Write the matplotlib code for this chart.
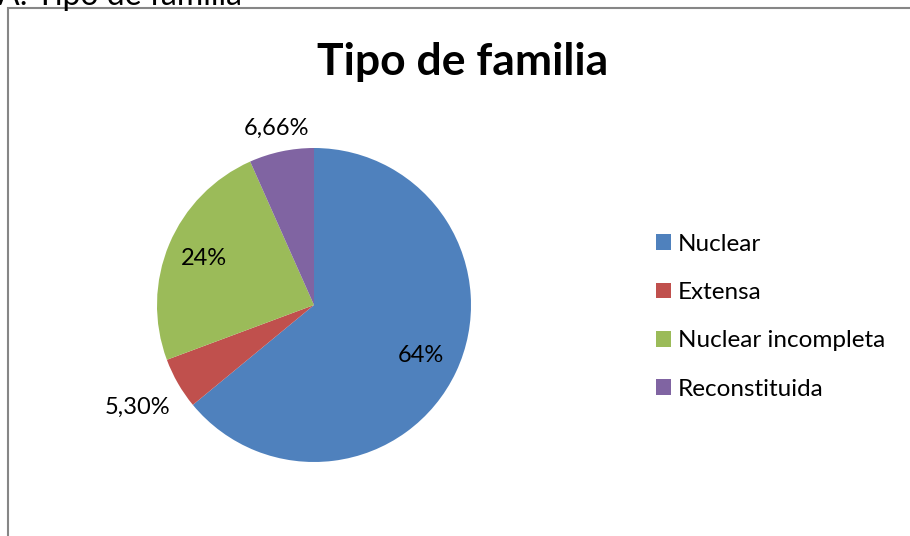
import matplotlib.pyplot as plt
from matplotlib.patches import Rectangle
import numpy as np

# data
categories = ['Nuclear', 'Extensa', 'Nuclear incompleta', 'Reconstituida']
values = [64, 5.30, 24, 6.66]
pct_labels = ['64%', '5,30%', '24%', '6,66%']
colors = ['#4F81BD', '#C0504D', '#9BBB59', '#8064A2']
label_dist = [0.75, 1.30, 0.76, 1.15]

plt.rcParams['font.family'] = ['Lato', 'DejaVu Sans']

fig = plt.figure(figsize=(9.1, 5.36), dpi=100)
ax = fig.add_axes([0, 0, 1, 1])

# pie centre / radius in pixel units (y measured from bottom)
cx, cy, r = 314, 536 - 305, 157
wedges, _ = ax.pie(values, colors=colors, startangle=90, counterclock=False,
                   center=(cx, cy), radius=r,
                   wedgeprops=dict(linewidth=0))

for w, lab, d in zip(wedges, pct_labels, label_dist):
    mid = np.deg2rad((w.theta1 + w.theta2) / 2)
    ax.text(cx + d * r * np.cos(mid), cy + d * r * np.sin(mid), lab,
            ha='center', va='center', fontsize=17, color='#000000')

ax.set_xlim(0, 910)
ax.set_ylim(0, 536)
ax.set_aspect('auto')
ax.axis('off')

ax.text(463, 536 - 62, 'Tipo de familia', ha='center', va='center',
        fontsize=32, fontweight='bold')

leg = ax.legend(wedges, categories, loc='upper left',
                bbox_to_anchor=(634 / 910, 1 - 212 / 536),
                frameon=False, fontsize=17.5, handlelength=0.62,
                handleheight=0.62, handletextpad=0.3, labelspacing=1.12)

# chart frame (partially cut by the screenshot)
fig.patches.append(Rectangle((8 / 910, -0.1), 1.2, (536 - 8) / 536 + 0.1,
                             transform=fig.transFigure, fill=False,
                             edgecolor='#868686', linewidth=1.5))

# heading above the chart, cut off at the top
fig.text(-2 / 910, 1.0 - 5 / 536, 'A: Tipo de familia', ha='left', va='baseline',
         fontsize=23)

fig.savefig('out.png', dpi=100)
